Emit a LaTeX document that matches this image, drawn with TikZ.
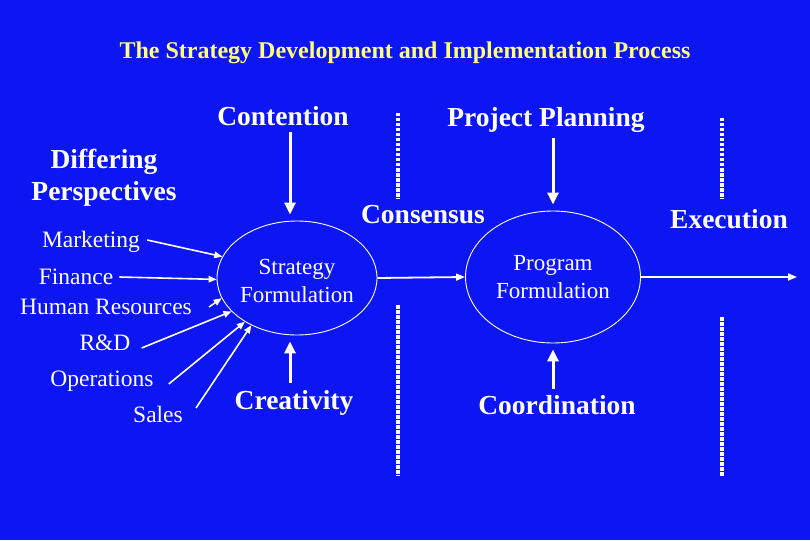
\documentclass[tikz,border=0pt]{standalone}
\usepackage{fontspec}
\setmainfont{Liberation Serif}
\usetikzlibrary{arrows.meta,shapes.geometric}
\definecolor{bgblue}{RGB}{12,22,242}
\definecolor{titleyellow}{RGB}{255,255,120}
\begin{document}
\begin{tikzpicture}[x=1pt,y=-1pt,
  bigtxt/.style={text=white,font=\fontsize{27.5}{30}\selectfont\bfseries,inner sep=0pt,anchor=base},
  smalltxt/.style={text=white,font=\fontsize{23.5}{26}\selectfont,inner sep=0pt,anchor=base},
  formtxt/.style={text=white,font=\fontsize{23}{28}\selectfont,align=center,inner sep=0pt},
  oval/.style={ellipse,draw=white,line width=0.9pt,inner sep=0pt},
  thickarrow/.style={white,line width=3pt,-{Triangle[length=12pt,width=11pt]}},
  thinarrow/.style={white,line width=1.6pt,-{Triangle[length=8pt,width=6.5pt]}},
  midarrow/.style={white,line width=1.8pt,-{Triangle[length=9pt,width=7pt]}},
  sep/.style={white,line width=3.2pt,dash pattern=on 3.5pt off 1.5pt}]
\fill[bgblue] (0,0) rectangle (810,540);
\useasboundingbox (0,0) rectangle (810,540);

% title
\node[text=titleyellow,font=\fontsize{24}{26}\selectfont\bfseries,inner sep=0pt,anchor=base] (title) at (405,59) {The Strategy Development and Implementation Process};

% ellipses
\node[oval,minimum width=160pt,minimum height=114pt] (sf) at (297,278) {};
\node[formtxt,anchor=base] (sft1) at (297,274) {Strategy};
\node[formtxt,anchor=base] (sft2) at (297,302) {Formulation};
\node[oval,minimum width=175pt,minimum height=132pt] (pf) at (553,277) {};
\node[formtxt,anchor=base] (pft1) at (553,270) {Program};
\node[formtxt,anchor=base] (pft2) at (553,298) {Formulation};

% bold labels
\node[bigtxt] (ct) at (283,126) {Contention};
\node[bigtxt] (pp) at (546,127) {Project Planning};
\node[bigtxt] (cs) at (423,223) {Consensus};
\node[bigtxt] (ex) at (729,228) {Execution};
\node[bigtxt] (cr) at (294,409) {Creativity};
\node[bigtxt] (co) at (557,414) {Coordination};
\node[bigtxt] (dp1) at (104,168) {Differing};
\node[bigtxt] (dp2) at (104,200) {Perspectives};

% department labels
\node[smalltxt] (mk) at (91,247) {Marketing};
\node[smalltxt] (fi) at (76,284) {Finance};
\node[smalltxt] (hr) at (106,314) {Human Resources};
\node[smalltxt] (rd) at (105,350) {R\&D};
\node[smalltxt] (op) at (102,386) {Operations};
\node[smalltxt] (sa) at (158,422) {Sales};

% right end
\coordinate (rend) at (797,277);

% separators
\coordinate (s1a) at (398,113); \coordinate (s1b) at (398,199);
\coordinate (s2a) at (398,305); \coordinate (s2b) at (398,476);
\coordinate (s3a) at (722,118); \coordinate (s3b) at (722,199);
\coordinate (s4a) at (722,317); \coordinate (s4b) at (722,476);
\draw[sep] (s1a) -- (s1b);
\draw[sep] (s2a) -- (s2b);
\draw[sep] (s3a) -- (s3b);
\draw[sep] (s4a) -- (s4b);

% vertical arrows
\draw[thickarrow] ([shift={(7,6)}]ct.base) -- ([shift={(-7,-6)}]sf.north);
\draw[thickarrow] ([shift={(7,11)}]pp.base) -- ([shift={(0,-6)}]pf.north);
\draw[thickarrow] ([shift={(-4,-26)}]cr.base) -- ([shift={(-7,6)}]sf.south);
\draw[thickarrow] ([shift={(-4,-25)}]co.base) -- ([shift={(0,6)}]pf.south);

% horizontal flow
\draw[midarrow] (sf.east) -- (pf.west);
\draw[midarrow] (pf.east) -- (rend);

% department arrows
\draw[thinarrow] ([shift={(7,-7)}]mk.base east) -- (sf.164);
\draw[thinarrow] ([shift={(6,-7)}]fi.base east) -- (sf.181);
\draw[thinarrow] ([shift={(17,-7)}]hr.base east) -- (sf.195);
\draw[thinarrow] ([shift={(11,-2)}]rd.base east) -- (sf.207);
\draw[thinarrow] ([shift={(15,-2)}]op.base east) -- (sf.220);
\draw[thinarrow] ([shift={(13,-14)}]sa.base east) -- (sf.226);
\end{tikzpicture}
\end{document}
